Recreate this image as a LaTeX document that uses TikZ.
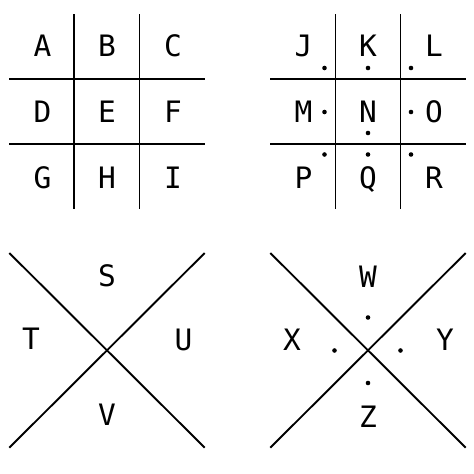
\documentclass[tikz,border=0pt]{standalone}
\usepackage{fontspec}
\setmonofont{DejaVu Sans Mono}
\begin{document}
\begin{tikzpicture}[x=1pt,y=-1pt,
  ln/.style={line width=1.9pt,black},
  lt/.style={font=\ttfamily\fontsize{29.5}{31}\selectfont,inner sep=0pt,text height=21.5pt,text depth=0pt,anchor=center},
  dt/.style={circle,fill=black,inner sep=0pt,minimum size=4.6pt}]
\useasboundingbox (0,0) rectangle (474,474);
\fill[white] (0,0) rectangle (474,474);
% Grid 1
\coordinate (g1a) at (74,14); \coordinate (g1b) at (74,209);
\coordinate (g1c) at (139.5,14); \coordinate (g1d) at (139.5,209);
\coordinate (g1e) at (9,79); \coordinate (g1f) at (205,79);
\coordinate (g1g) at (9,144); \coordinate (g1h) at (205,144);
\draw[ln] (g1a) -- (g1b); \draw[ln] (g1c) -- (g1d);
\draw[ln] (g1e) -- (g1f); \draw[ln] (g1g) -- (g1h);
\node[lt] (A) at (42.5,46) {A};
\node[lt] (B) at (107,46) {B};
\node[lt] (C) at (173,46) {C};
\node[lt] (D) at (42.5,112) {D};
\node[lt] (E) at (107,112) {E};
\node[lt] (F) at (173,112) {F};
\node[lt] (G) at (42.5,177.5) {G};
\node[lt] (H) at (107,177.5) {H};
\node[lt] (I) at (173,177.5) {I};
% Grid 2
\coordinate (g2a) at (335.5,14); \coordinate (g2b) at (335.5,209);
\coordinate (g2c) at (400.5,14); \coordinate (g2d) at (400.5,209);
\coordinate (g2e) at (270,79); \coordinate (g2f) at (466,79);
\coordinate (g2g) at (270,144); \coordinate (g2h) at (466,144);
\draw[ln] (g2a) -- (g2b); \draw[ln] (g2c) -- (g2d);
\draw[ln] (g2e) -- (g2f); \draw[ln] (g2g) -- (g2h);
\node[lt] (J) at (303.5,46) {J};
\node[lt] (K) at (368,46) {K};
\node[lt] (L) at (434,46) {L};
\node[lt] (M) at (303.5,112) {M};
\node[lt] (N) at (368,112) {N};
\node[lt] (O) at (434,112) {O};
\node[lt] (P) at (303.5,177.5) {P};
\node[lt] (Q) at (368,177.5) {Q};
\node[lt] (R) at (434,177.5) {R};
\node[dt] (dJ) at (324.5,68) {};
\node[dt] (dK) at (368,68) {};
\node[dt] (dL) at (411,68) {};
\node[dt] (dM) at (324.5,112) {};
\node[dt] (dN) at (368,133) {};
\node[dt] (dO) at (411,112) {};
\node[dt] (dP) at (324.5,154.5) {};
\node[dt] (dQ) at (368,154.5) {};
\node[dt] (dR) at (411,154.5) {};
% X 1
\coordinate (x1a) at (9.3,253); \coordinate (x1b) at (204.7,447.7);
\coordinate (x1c) at (9.3,447.7); \coordinate (x1d) at (204.7,253);
\draw[ln] (x1a) -- (x1b); \draw[ln] (x1c) -- (x1d);
\node[lt] (S) at (107,275.5) {S};
\node[lt] (T) at (31,339) {T};
\node[lt] (U) at (183.5,340) {U};
\node[lt] (V) at (107,415) {V};
% X 2
\coordinate (x2a) at (270.3,253); \coordinate (x2b) at (465.7,447.7);
\coordinate (x2c) at (270.3,447.7); \coordinate (x2d) at (465.7,253);
\draw[ln] (x2a) -- (x2b); \draw[ln] (x2c) -- (x2d);
\node[lt] (W) at (368,277) {W};
\node[lt] (X) at (292,340) {X};
\node[lt] (Y) at (445,340) {Y};
\node[lt] (Z) at (368,417) {Z};
\node[dt] (dW) at (368,317.5) {};
\node[dt] (dX) at (334.5,350.5) {};
\node[dt] (dY) at (400.5,350.5) {};
\node[dt] (dZ) at (368,383) {};
\end{tikzpicture}
\end{document}
